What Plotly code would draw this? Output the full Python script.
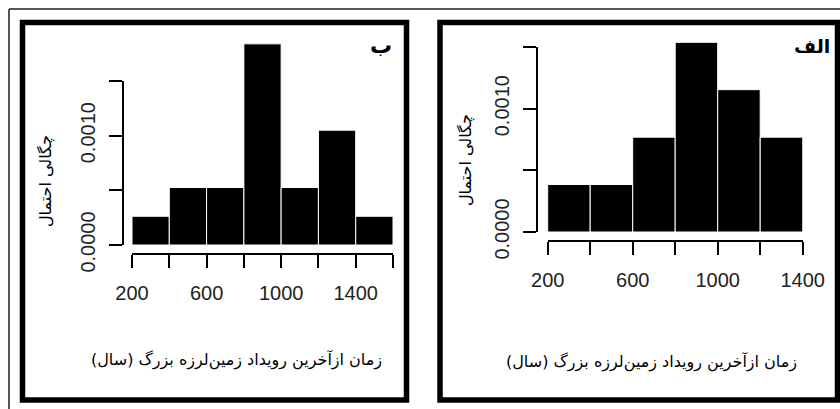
import plotly.graph_objects as go

# ---------------- data ----------------
bin_width = 200
left_bin_centers = [300, 500, 700, 900, 1100, 1300, 1500]
left_density = [0.000263, 0.000526, 0.000526, 0.00184, 0.000526, 0.00105, 0.000263]
right_bin_centers = [300, 500, 700, 900, 1100, 1300]
right_density = [0.000385, 0.000385, 0.000769, 0.001538, 0.001154, 0.000769]

x_tickvals_left = [200, 400, 600, 800, 1000, 1200, 1400, 1600]
x_ticktext_left = ["200", "", "600", "", "1000", "", "1400", ""]
x_tickvals_right = [200, 400, 600, 800, 1000, 1200, 1400]
x_ticktext_right = ["200", "", "600", "", "1000", "", "1400"]
y_tickvals = [0, 0.0005, 0.0010, 0.0015]
y_ticktext = ["0.0000", "", "0.0010", ""]

panel_labels = ["ب", "الف"]
x_title = "زمان ازآخرین رویداد زمین\u200cلرزه بزرگ (سال)"
y_title = "چگالی احتمال"

# ---------------- layout helpers ----------------
W, H = 840, 409


def fx(px):
    return px / W


def fy(py):
    return 1 - py / H


tick_font = dict(family="Liberation Sans, Arial, sans-serif", size=20, color="#222")
fa_font = "DejaVu Sans, sans-serif"

fig = go.Figure()

# bars
fig.add_trace(go.Bar(x=left_bin_centers, y=left_density, width=bin_width,
                     marker=dict(color="black", line=dict(color="white", width=1)),
                     xaxis="x", yaxis="y", showlegend=False, hoverinfo="skip"))
fig.add_trace(go.Bar(x=right_bin_centers, y=right_density, width=bin_width,
                     marker=dict(color="black", line=dict(color="white", width=1)),
                     xaxis="x2", yaxis="y2", showlegend=False, hoverinfo="skip"))
# carriers for the detached R-style y axes
fig.add_trace(go.Scatter(x=[None], y=[None], xaxis="x", yaxis="y3",
                         showlegend=False, hoverinfo="skip"))
fig.add_trace(go.Scatter(x=[None], y=[None], xaxis="x2", yaxis="y4",
                         showlegend=False, hoverinfo="skip"))

axis_line = dict(showline=True, linecolor="black", linewidth=2, ticks="outside",
                 ticklen=13, tickwidth=2, tickcolor="black", showgrid=False,
                 zeroline=False, tickfont=tick_font, fixedrange=True, automargin=False)

# panel geometry (reference pixels)
L = dict(x0=132, x1=393, xline=254, ybase=245, ytop_tick=81, yline=122.5, top=30)
R = dict(x0=547.7, x1=802.7, xline=240.7, ybase=232, ytop_tick=47, yline=536.7, top=30)


def yr(g):
    return 0.0015 * (g["ybase"] - g["top"]) / (g["ybase"] - g["ytop_tick"])


fig.update_layout(
    width=W, height=H, autosize=False, template="none", showlegend=False,
    margin=dict(l=0, r=0, t=0, b=0, pad=0, autoexpand=False),
    paper_bgcolor="white", plot_bgcolor="rgba(0,0,0,0)",
    bargap=0,
    xaxis=dict(domain=[fx(L["x0"]), fx(L["x1"])], range=[200, 1600], anchor="free",
               position=fy(L["xline"]), tickvals=x_tickvals_left,
               ticktext=x_ticktext_left, ticklabelstandoff=8, **axis_line),
    yaxis=dict(domain=[fy(L["ybase"]), fy(L["top"])], range=[0, yr(L)],
               visible=False, fixedrange=True, automargin=False),
    yaxis3=dict(domain=[fy(L["ybase"]), fy(L["ytop_tick"])], range=[0, 0.0015],
                anchor="free", position=fx(L["yline"]), tickvals=y_tickvals,
                ticktext=y_ticktext, tickangle=-90, ticklabelstandoff=6, **axis_line),
    xaxis2=dict(domain=[fx(R["x0"]), fx(R["x1"])], range=[200, 1400], anchor="free",
                position=fy(R["xline"]), tickvals=x_tickvals_right,
                ticktext=x_ticktext_right, ticklabelstandoff=8, **axis_line),
    yaxis2=dict(domain=[fy(R["ybase"]), fy(R["top"])], range=[0, yr(R)],
                visible=False, fixedrange=True, automargin=False),
    yaxis4=dict(domain=[fy(R["ybase"]), fy(R["ytop_tick"])], range=[0, 0.0015],
                anchor="free", position=fx(R["yline"]), tickvals=y_tickvals,
                ticktext=y_ticktext, tickangle=-90, ticklabelstandoff=6, **axis_line),
)

# panel frames and the thin outer frame
shapes = [
    dict(type="rect", xref="paper", yref="paper", x0=fx(22.5), x1=fx(406.5),
         y0=fy(400), y1=fy(22.5), line=dict(color="black", width=5.5)),
    dict(type="rect", xref="paper", yref="paper", x0=fx(440), x1=fx(837.5),
         y0=fy(400), y1=fy(22.5), line=dict(color="black", width=5.5)),
    dict(type="line", xref="paper", yref="paper", x0=fx(9), x1=1, y0=fy(9), y1=fy(9),
         line=dict(color="#555", width=2)),
    dict(type="line", xref="paper", yref="paper", x0=fx(9), x1=fx(9), y0=0, y1=fy(9),
         line=dict(color="#555", width=2)),
]
fig.update_layout(shapes=shapes)


def note(text, x, y, size, angle=0):
    return dict(text=text, x=fx(x), y=fy(y), xref="paper", yref="paper",
                xanchor="center", yanchor="middle", textangle=angle, showarrow=False,
                font=dict(family=fa_font, size=size, color="black"))


ann = [
    note("<b>%s</b>" % panel_labels[0], 381, 46, 22),
    note("<b>%s</b>" % panel_labels[1], 812, 46, 19),
    note(x_title, 236, 360, 16),
    note(x_title, 651, 362, 16),
    note(y_title, 45, 181, 16, -90),
    note(y_title, 465, 160, 16, -90),
]
fig.update_layout(annotations=ann)

fig.write_html(
    "out.html",
    config={"displayModeBar": False, "staticPlot": True},
    post_script="document.body.style.margin='0';document.body.style.overflow='hidden';",
)
